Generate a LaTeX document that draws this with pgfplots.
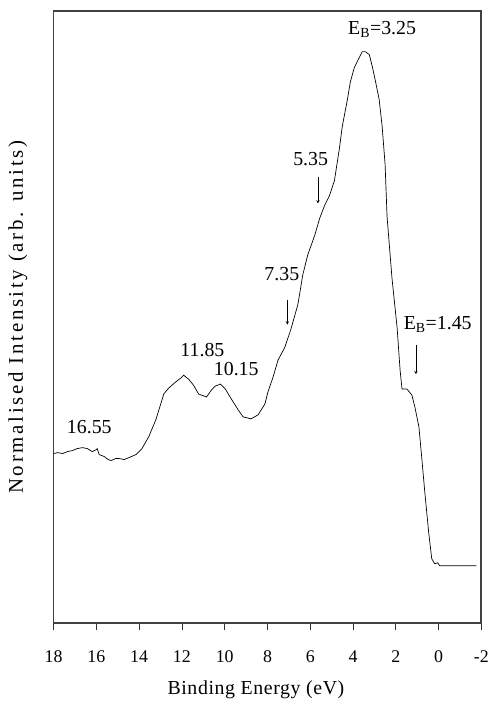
\documentclass[border=0pt]{standalone}
\usepackage{fontspec}
\setmainfont{Liberation Serif}
\newfontfamily\ylabfont[LetterSpace=13]{Liberation Serif}
\newfontfamily\xlabfont[LetterSpace=3]{Liberation Serif}
\usepackage{pgfplots}
\pgfplotsset{compat=1.18}
\pgfplotstableread{
E Y
18.00 171
17.80 172
17.58 171
17.35 173
17.12 174
16.90 176
16.65 177
16.42 176
16.19 173
16.00 175
15.96 176
15.87 170
15.63 168
15.45 165
15.31 164
15.10 166
14.94 166
14.70 165
14.47 167
14.15 170
13.87 176
13.55 188
13.22 205
12.99 221
12.85 231
12.62 237
12.30 243
12.06 247
11.92 250
11.69 246
11.46 240
11.22 231
10.85 228
10.62 235
10.44 239
10.20 241
9.97 236
9.69 226
9.37 215
9.14 208
8.77 206
8.44 210
8.12 221
7.98 233
7.74 248
7.51 265
7.19 278
6.91 296
6.58 321
6.35 351
6.12 371
5.79 391
5.56 408
5.33 421
5.10 431
4.87 446
4.64 478
4.50 501
4.26 528
4.13 545
3.94 560
3.71 570
3.57 576
3.43 576
3.24 573
3.10 561
2.97 548
2.78 528
2.64 501
2.50 462
2.41 410
2.18 348
1.94 298
1.80 255
1.71 236
1.48 236
1.25 230
1.11 218
0.92 198
0.78 165
0.64 131
0.46 91
0.32 65
0.18 60
0.04 61
-0.05 58
-1.77 58
}\spectrum
\begin{document}
\fontsize{18}{21}\selectfont
\begin{tikzpicture}
\begin{axis}[
  at={(0,0)}, anchor=south west,
  scale only axis, width=431pt, height=617pt,
  axis lines=box,
  x dir=reverse, xmin=-2, xmax=18, ymin=0, ymax=617,
  xtick={-2,0,2,4,6,8,10,12,14,16,18},
  xticklabels={-2,0,2,4,6,8,10,12,14,16,18},
  ytick=\empty,
  xtick pos=lower, tick align=outside, major tick length=7pt,
  axis line style={black!80, line width=0.8pt},
  every tick/.style={black!80, line width=0.8pt},
  tick label style={font=\fontsize{18}{21}\selectfont},
  xticklabel style={anchor=base, yshift=-32pt},
  xlabel={Binding Energy (eV)},
  xlabel style={font=\xlabfont\fontsize{20}{23}\selectfont, at={(axis description cs:0.473,0)}, anchor=base, yshift=-72pt},
  ylabel={Normalised Intensity (arb. units)},
  ylabel style={font=\ylabfont\fontsize{21}{24}\selectfont, at={(axis description cs:-0.0835,0.5)}, anchor=center},
  clip=false,
]
\draw[black!75, line width=1.8pt] (rel axis cs:0,0) rectangle (rel axis cs:1,1);
\addplot[black, line width=0.7pt, mark=none] table[x=E, y=Y] {\spectrum};
\begin{scope}[font=\fontsize{20}{23}\selectfont]
\node[anchor=base] at (axis cs:16.33,191) {16.55};
\node[anchor=base] at (axis cs:11.04,269) {11.85};
\node[anchor=base] at (axis cs:9.46,250) {10.15};
\node[anchor=base] at (axis cs:7.33,345) {7.35};
\node[anchor=base] at (axis cs:5.98,461) {5.35};
\node[anchor=base] at (axis cs:2.64,593) {E\textsubscript{B}=3.25};
\node[anchor=base] at (axis cs:0.04,296) {E\textsubscript{B}=1.45};
\end{scope}
\draw[->, >=stealth, line width=0.5pt] (axis cs:7.07,326) -- (axis cs:7.07,301);
\draw[->, >=stealth, line width=0.5pt] (axis cs:5.64,450) -- (axis cs:5.64,423);
\draw[->, >=stealth, line width=0.5pt] (axis cs:1.06,280) -- (axis cs:1.06,251);
\end{axis}
\path (-54pt,-77pt) rectangle (442pt,628pt);
\end{tikzpicture}
\end{document}
